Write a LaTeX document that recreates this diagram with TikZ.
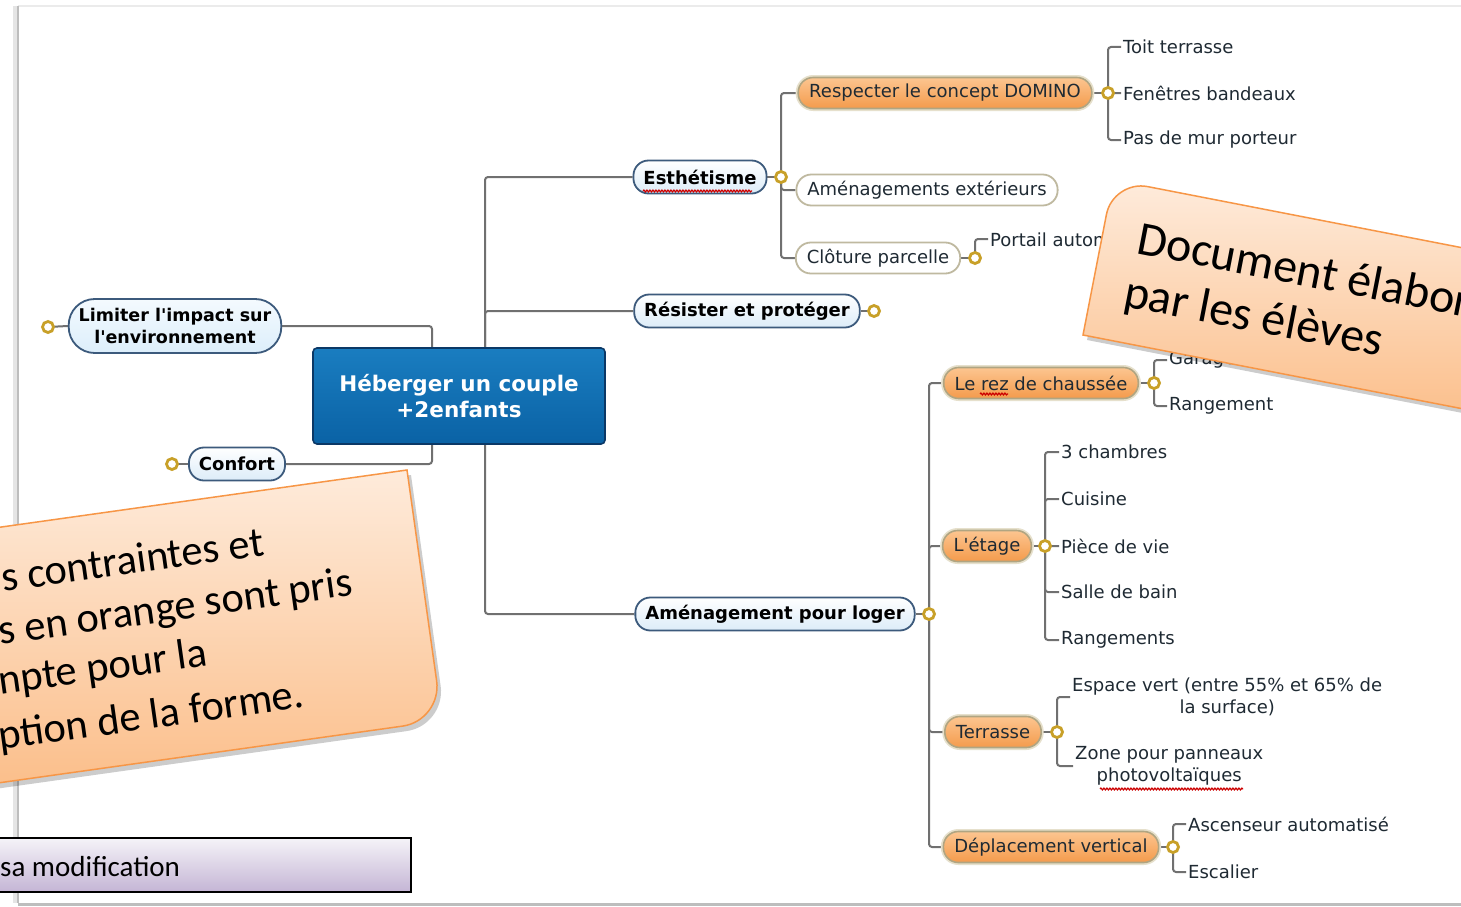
\documentclass[tikz,border=0pt]{standalone}
\usepackage{fontspec}
\setmainfont{DejaVu Sans}[Ligatures=TeXOff]
\newfontfamily\callfont{Carlito}
\usetikzlibrary{backgrounds,shadows,decorations.pathmorphing}
\definecolor{lineC}{HTML}{707070}
\definecolor{goldC}{HTML}{C8A028}
\definecolor{blueB}{HTML}{3C5A7C}
\definecolor{blueF}{HTML}{DCECF8}
\definecolor{limT}{HTML}{F4FAFE}
\definecolor{limB}{HTML}{DCEEFB}
\definecolor{orT}{HTML}{FCC590}
\definecolor{orBo}{HTML}{F49B4C}
\definecolor{orB}{HTML}{B0A582}
\definecolor{orGlow}{HTML}{E6E0CC}
\definecolor{tanB}{HTML}{BFB9A0}
\definecolor{txtC}{HTML}{1F2A33}
\definecolor{hubT}{HTML}{1A7DC0}
\definecolor{hubB}{HTML}{0A62A5}
\definecolor{hubBorder}{HTML}{0B3866}
\definecolor{calT}{HTML}{FEEBDB}
\definecolor{calBo}{HTML}{FBBC86}
\definecolor{calB}{HTML}{F79646}
\definecolor{purT}{HTML}{F5F3F8}
\definecolor{purB}{HTML}{C4B5D5}
\definecolor{frameC}{HTML}{BDBDBD}
\newcommand\mmfont{\fontsize{18}{21.5}\selectfont}
\begin{document}
\begin{tikzpicture}[x=1pt,y=-1pt,
  conn/.style={draw=lineC, line width=2pt, rounded corners=3pt},
  gold/.style={circle, draw=goldC, fill=white, line width=2.8pt, minimum size=11pt, inner sep=0pt},
  bpill/.style={rectangle, rounded corners=15pt, draw=blueB, line width=1.8pt, top color=white, bottom color=blueF, minimum height=33pt, inner xsep=10pt, inner ysep=0pt, font=\bfseries\mmfont, text=black},
  opill/.style={rectangle, rounded corners=15pt, draw=orB, line width=1.6pt, top color=orT, bottom color=orBo, preaction={draw=orGlow, line width=5pt}, minimum height=31pt, inner xsep=11pt, inner ysep=0pt, font=\mmfont, text=txtC},
  tpill/.style={rectangle, rounded corners=15pt, draw=tanB, line width=1.8pt, fill=white, minimum height=31pt, inner xsep=11pt, inner ysep=0pt, font=\mmfont, text=txtC},
  leaf/.style={anchor=west, inner xsep=2pt, inner ysep=1pt, font=\mmfont, text=txtC},
  hubnode/.style={rectangle, rounded corners=4pt, draw=hubBorder, line width=1.6pt, top color=hubT, bottom color=hubB, minimum width=292pt, minimum height=96pt, text=white, font=\bfseries\fontsize{21.5}{26}\selectfont, align=center},
  spell/.style={draw=red!80!black, line width=1.2pt, decorate, decoration={snake, amplitude=0.9pt, segment length=3pt}},
  callout/.style={draw=calB, line width=1.5pt, top color=calT, bottom color=calBo, drop shadow={shadow xshift=4pt, shadow yshift=-5pt, opacity=0.2, fill=black}},
  calltext/.style={anchor=base west, inner sep=0pt, text=black}
]
\useasboundingbox (0,0) rectangle (1461,907);
\clip (0,0) rectangle (1461,907);

% ---- nodes ----
\node[hubnode] (hub) at (459,396) {Héberger un couple\\+2enfants};
\node[bpill] (esth) at (700,177) {Esthétisme};
\node[bpill] (res) at (747,311) {Résister et protéger};
\node[bpill] (amen) at (775,614) {Aménagement pour loger};
\node[bpill, top color=limT, bottom color=limB, minimum height=54pt, rounded corners=26pt, align=center, font=\bfseries\fontsize{17.5}{22}\selectfont] (lim) at (175,326) {Limiter l'impact sur\\l'environnement};
\node[bpill] (conf) at (237,464) {Confort};

\node[opill] (dom) at (945,93) {Respecter le concept DOMINO};
\node[tpill] (amx) at (927,190) {Aménagements extérieurs};
\node[tpill] (clo) at (878,258) {Clôture parcelle};
\node[opill] (rez) at (1041,383) {Le rez de chaussée};
\node[opill] (etage) at (987,546) {L'étage};
\node[opill] (terr) at (993,732) {Terrasse};
\node[opill] (dep) at (1051,847) {Déplacement vertical};

\node[gold] (lg) at (48,327) {};
\node[gold] (cg) at (172,464) {};
\node[gold] (eg) at (781,177) {};
\node[gold] (rg) at (874,311) {};
\node[gold] (ag) at (929,614) {};
\node[gold] (dg) at (1108,93) {};
\node[gold] (clg) at (975,258) {};
\node[gold] (rzg) at (1154,383) {};
\node[gold] (etg) at (1045,546) {};
\node[gold] (tg) at (1057,732) {};
\node[gold] (dpg) at (1173,847) {};

\node[leaf] (toit) at (1121,47) {Toit terrasse};
\node[leaf] (fen) at (1121,93) {Fenêtres bandeaux};
\node[leaf] (pas) at (1121,140) {Pas de mur porteur};
\node[leaf] (port) at (988,239) {Portail automatisé};
\node[leaf] (gar) at (1167,360) {Garage};
\node[leaf] (rang) at (1167,406) {Rangement};
\node[leaf] (ch) at (1059,452) {3 chambres};
\node[leaf] (cui) at (1059,499) {Cuisine};
\node[leaf] (piece) at (1059,546) {Pièce de vie};
\node[leaf] (sdb) at (1059,592) {Salle de bain};
\node[leaf] (rgs) at (1059,640) {Rangements};
\node[leaf, align=center] (esp) at (1070,697) {Espace vert (entre 55\% et 65\% de\\la surface)};
\node[leaf, align=center] (zone) at (1073,766) {Zone pour panneaux\\photovoltaïques};
\node[leaf] (asc) at (1186,824) {Ascenseur automatisé};
\node[leaf] (esc) at (1186,872) {Escalier};

% ---- background: page frame and connectors ----
\begin{pgfonlayer}{background}
  \fill[white] (0,0) rectangle (1461,907);
  \draw[line width=1.2pt, black!8] (18,6) -- (1461,6);
  \draw[line width=4pt, black!10] (15,6) -- (15,903);
  \draw[line width=2.5pt, frameC] (18,6) -- (18,903);
  \draw[line width=3pt, frameC] (18,904) -- (1461,904);

  \draw[conn] (lim.east) -| ([xshift=-27pt]hub.north);
  \draw[conn] (conf.east) -| ([xshift=-27pt]hub.south);
  \draw[conn] ([xshift=26pt]hub.north) |- (esth.west);
  \draw[conn] ([xshift=26pt]hub.north) |- (res.west);
  \draw[conn] ([xshift=26pt]hub.south) |- (amen.west);
  \draw[conn] (lg.center) -- (lim.west);
  \draw[conn] (cg.center) -- (conf.west);
  \draw[conn] (esth.east) -- (eg.center);
  \draw[conn] (res.east) -- (rg.center);
  \draw[conn] (amen.east) -- (ag.center);
  \draw[conn] (eg.center) |- (dom.west);
  \draw[conn] (eg.center) |- (amx.west);
  \draw[conn] (eg.center) |- (clo.west);
  \draw[conn] (dom.east) -- (dg.center);
  \draw[conn] (dg.center) |- (toit.west);
  \draw[conn] (dg.center) |- (fen.west);
  \draw[conn] (dg.center) |- (pas.west);
  \draw[conn] (clo.east) -- (clg.center);
  \draw[conn] (clg.center) |- (port.west);
  \draw[conn] (ag.center) |- (rez.west);
  \draw[conn] (ag.center) |- (etage.west);
  \draw[conn] (ag.center) |- (terr.west);
  \draw[conn] (ag.center) |- (dep.west);
  \draw[conn] (rez.east) -- (rzg.center);
  \draw[conn] (rzg.center) |- (gar.west);
  \draw[conn] (rzg.center) |- (rang.west);
  \draw[conn] (etage.east) -- (etg.center);
  \draw[conn] (etg.center) |- (ch.west);
  \draw[conn] (etg.center) |- (cui.west);
  \draw[conn] (etg.center) |- (piece.west);
  \draw[conn] (etg.center) |- (sdb.west);
  \draw[conn] (etg.center) |- (rgs.west);
  \draw[conn] (terr.east) -- (tg.center);
  \draw[conn] (tg.center) |- (esp.west);
  \draw[conn] (tg.center) |- (zone.west);
  \draw[conn] (dep.east) -- (dpg.center);
  \draw[conn] (dpg.center) |- (asc.west);
  \draw[conn] (dpg.center) |- (esc.west);
\end{pgfonlayer}

% ---- spell-check underlines ----
\draw[spell] (643,191) -- (752,191);
\draw[spell] (980,394) -- (1008,394);
\draw[spell] (1100,789) -- (1243,789);

% ---- callout top right ----
\begin{scope}[shift={(1083,335)}, rotate=-11]
  \path[callout] (0,0) -- (0,-123) .. controls (0,-142) and (16,-158) .. (35,-158) -- (520,-158) -- (520,0) -- cycle;
\end{scope}
\node[calltext, rotate=-11, font=\callfont\fontsize{48}{58}\selectfont] (c1a) at (1135,253) {Document élabor};
\node[calltext, rotate=-11, font=\callfont\fontsize{48}{58}\selectfont] (c1b) at (1122,306) {par les élèves};

% ---- callout bottom left ----
\begin{scope}[shift={(407,470)}, rotate=8]
  \path[callout] (0,0) -- (0,213) .. controls (0,235) and (-18,253) .. (-40,253) -- (-600,253) -- (-600,0) -- cycle;
\end{scope}
\node[calltext, rotate=8, font=\callfont\fontsize{42.5}{52}\selectfont] (c2a) at (3,592) {s contraintes et};
\node[calltext, rotate=8, font=\callfont\fontsize{42.5}{52}\selectfont] (c2b) at (0,645) {s en orange sont pris};
\node[calltext, rotate=8, font=\callfont\fontsize{42.5}{52}\selectfont] (c2c) at (0,695) {npte pour la};
\node[calltext, rotate=8, font=\callfont\fontsize{42.5}{52}\selectfont] (c2d) at (0,750) {ption de la forme.};

% ---- purple box bottom left ----
\path[draw=black, line width=2pt, top color=purT, bottom color=purB] (-10,838) rectangle (411,892);
\node[calltext, font=\callfont\fontsize{29}{34}\selectfont] (sam) at (0,876) {sa modification};
\end{tikzpicture}
\end{document}
